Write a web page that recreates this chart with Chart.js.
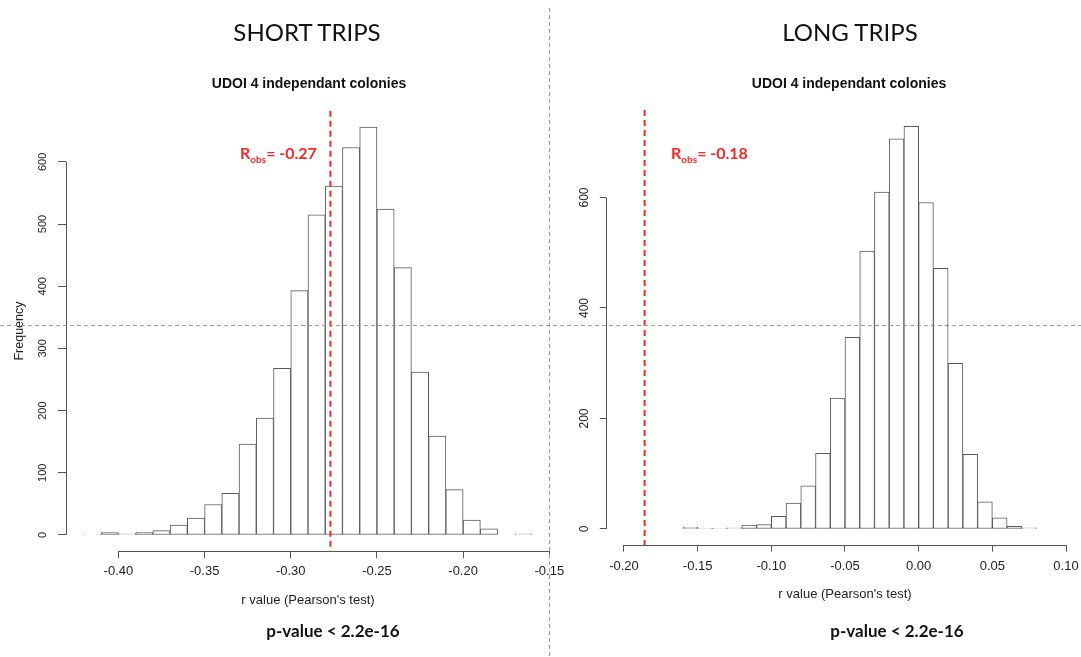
<!DOCTYPE html>
<html>
<head>
<meta charset="utf-8">
<script src="https://cdn.jsdelivr.net/npm/chart.js@4.4.1/dist/chart.umd.min.js"></script>
<style>
html,body{margin:0;padding:0;background:#fff;overflow:hidden;width:1081px;height:657px;position:relative;}
canvas{position:absolute;top:0;}
#c1{left:0;}
#c2{left:570px;}
.t{position:absolute;white-space:nowrap;transform:translateX(-50%);color:#000;}
.big{font-family:Lato,'Open Sans',sans-serif;font-size:24px;top:17px;color:#111;}
.sub{font-family:'Liberation Sans',Arial,sans-serif;font-weight:bold;font-size:14px;top:75px;color:#111;}
.pv{font-family:Lato,sans-serif;font-weight:bold;font-size:17px;top:620px;color:#111;}
.robs{position:absolute;white-space:nowrap;font-family:Lato,sans-serif;font-weight:bold;font-size:16px;color:#ff2424;top:143px;}
.robs sub{font-size:10px;vertical-align:-4px;}
.vline{position:absolute;left:549px;top:8px;width:1px;height:649px;background:repeating-linear-gradient(to bottom,#9a9a9a 0 4px,transparent 4px 7px);}
.hline{position:absolute;left:0;top:325px;width:1081px;height:1px;background:repeating-linear-gradient(to right,#9a9a9a 0 4px,transparent 4px 7px);}
</style>
</head>
<body>
<canvas id="c1" width="570" height="657"></canvas>
<canvas id="c2" width="520" height="657"></canvas>
<div class="t big" style="left:307px">SHORT TRIPS</div>
<div class="t big" style="left:850px">LONG TRIPS</div>
<div class="t sub" style="left:309px">UDOI 4 independant colonies</div>
<div class="t sub" style="left:849px">UDOI 4 independant colonies</div>
<div class="t pv" style="left:333px">p-value &lt; 2.2e-16</div>
<div class="t pv" style="left:897px">p-value &lt; 2.2e-16</div>
<div class="robs" style="left:240px">R<sub>obs</sub>= -0.27</div>
<div class="robs" style="left:671px">R<sub>obs</sub>= -0.18</div>
<div class="vline"></div>
<div class="hline"></div>
<script>
// ---- data ----
const shortBins = [-0.415,-0.405,-0.395,-0.385,-0.375,-0.365,-0.355,-0.345,-0.335,-0.325,-0.315,-0.305,-0.295,-0.285,-0.275,-0.265,-0.255,-0.245,-0.235,-0.225,-0.215,-0.205,-0.195,-0.185,-0.175,-0.165];
const shortCounts = [1,4,2,4,7,16,27,49,67,146,188,268,393,515,561,623,656,524,430,262,159,73,24,10,0,2];
const shortXTicks = [-0.40,-0.35,-0.30,-0.25,-0.20,-0.15];
const shortYTicks = [0,100,200,300,400,500,600];
const shortObs = -0.277;

const longBins = [-0.155,-0.145,-0.135,-0.125,-0.115,-0.105,-0.095,-0.085,-0.075,-0.065,-0.055,-0.045,-0.035,-0.025,-0.015,-0.005,0.005,0.015,0.025,0.035,0.045,0.055,0.065,0.075];
const longCounts = [3,1,1,2,7,8,23,47,78,137,237,347,503,610,706,729,591,472,300,135,49,20,5,2];
const longXTicks = [-0.20,-0.15,-0.10,-0.05,0.00,0.05,0.10];
const longYTicks = [0,200,400,600];
const longObs = -0.186;

const FONT = "'Liberation Sans', Arial, sans-serif";
const AX = '#555';

const rStyle = {
  id: 'rStyle',
  afterDraw(chart, args, o) {
    const {ctx, chartArea, scales: {x, y}} = chart;
    ctx.save();
    ctx.strokeStyle = AX; ctx.lineWidth = 1;
    const yb = Math.round(chartArea.bottom) + 0.5;
    ctx.beginPath();
    ctx.moveTo(x.getPixelForValue(o.xTicks[0]), yb);
    ctx.lineTo(x.getPixelForValue(o.xTicks[o.xTicks.length - 1]), yb);
    ctx.stroke();
    const xl = Math.round(chartArea.left) + 0.5;
    ctx.beginPath();
    ctx.moveTo(xl, y.getPixelForValue(o.yTicks[0]));
    ctx.lineTo(xl, y.getPixelForValue(o.yTicks[o.yTicks.length - 1]));
    ctx.stroke();
    ctx.strokeStyle = '#ff2424'; ctx.lineWidth = 2; ctx.setLineDash([6, 4]);
    const rx = x.getPixelForValue(o.obs);
    ctx.beginPath(); ctx.moveTo(rx, chartArea.top); ctx.lineTo(rx, chartArea.bottom); ctx.stroke();
    ctx.restore();
  }
};

function makeHist(id, bins, counts, xTicks, yTicks, obs, cfg) {
  const data = bins.map((b, i) => ({x: b, y: counts[i]}));
  new Chart(document.getElementById(id), {
    type: 'bar',
    data: {datasets: [{
      data,
      backgroundColor: '#fff',
      borderColor: '#5a5a5a',
      borderSkipped: false,
      borderWidth: 1,
      barPercentage: 1, categoryPercentage: 1
    }]},
    options: {
      responsive: false, animation: false,
      layout: {padding: cfg.padding},
      plugins: {legend: {display: false}, tooltip: {enabled: false}, rStyle: {xTicks, yTicks, obs}},
      scales: {
        x: {
          type: 'linear', min: cfg.xmin, max: cfg.xmax, offset: false,
          grid: {offset: false, drawOnChartArea: false, drawTicks: true, tickLength: cfg.xtl, color: AX},
          border: {display: false},
          afterBuildTicks: s => { s.ticks = xTicks.map(v => ({value: v})); },
          afterFit: s => { s.height = 60; s.paddingLeft = 0; s.paddingRight = 0; },
          ticks: {autoSkip: false, maxRotation: 0, padding: cfg.xpad, color: '#222', font: {family: FONT, size: 13},
                  callback: v => v.toFixed(2)},
          title: {display: true, text: "r value (Pearson's test)", color: '#222', font: {family: FONT, size: 13}, padding: {top: 0, bottom: cfg.xtitlePad}}
        },
        y: {
          type: 'linear', min: cfg.ymin, max: cfg.ymax,
          grid: {drawOnChartArea: false, drawTicks: true, tickLength: cfg.ytl, color: AX},
          border: {display: false},
          afterBuildTicks: s => { s.ticks = yTicks.map(v => ({value: v})); },
          afterFit: s => { s.width = cfg.yw; s.paddingTop = 0; s.paddingBottom = 0; },
          ticks: {autoSkip: false, minRotation: 90, maxRotation: 90, crossAlign: 'center', padding: cfg.ypad, color: '#222', font: {family: FONT, size: cfg.yfs}},
          title: {display: !!cfg.ytitle, text: cfg.ytitle || '', color: '#222', font: {family: FONT, size: 12.5}, padding: {top: 12, bottom: 0}}
        }
      }
    },
    plugins: [rStyle]
  });
}

makeHist('c1', shortBins, shortCounts, shortXTicks, shortYTicks, shortObs, {
  padding: {top: 110.7, right: 20, bottom: 45.7, left: 0},
  xmin: -0.4304, xmax: -0.1496, ymin: -26.24, ymax: 682.24,
  xtl: 7, ytl: 8, xpad: 5, ypad: 5.5, yw: 66, yfs: 11, xtitlePad: 3.5, ytitle: 'Frequency'
});
makeHist('c2', longBins, longCounts, longXTicks, longYTicks, longObs, {
  padding: {top: 110.1, right: 6.3, bottom: 51.9, left: 0},
  xmin: -0.212, xmax: 0.112, ymin: -29.16, ymax: 758.16,
  xtl: 6.5, ytl: 6.5, xpad: 7, ypad: 4.8, yw: 36.3, yfs: 12, xtitlePad: 3, ytitle: ''
});
</script>
</body>
</html>
